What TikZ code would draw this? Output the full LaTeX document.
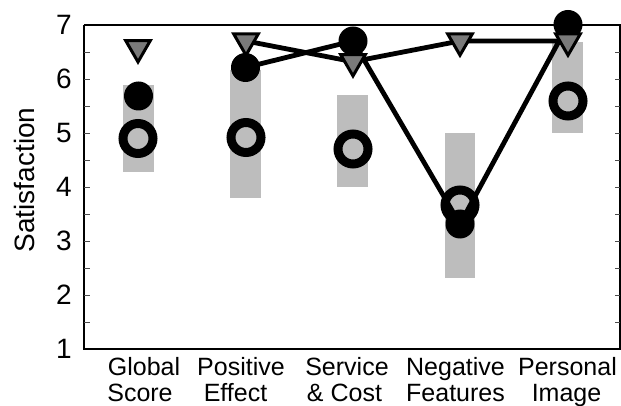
\documentclass[tikz,border=0pt]{standalone}
\usepackage{fontspec}
\setmainfont{Liberation Sans}
\usetikzlibrary{shapes.geometric}
\definecolor{bargray}{HTML}{BDBDBD}
\definecolor{trigray}{HTML}{7A7A7A}
\begin{document}
\begin{tikzpicture}[x=1pt,y=-1pt,
  bar/.style={fill=bargray,draw=none},
  ring/.style={circle,draw=black,line width=9pt,minimum size=30pt,inner sep=0pt},
  dot/.style={circle,fill=black,minimum size=29pt,inner sep=0pt},
  tri/.style={regular polygon,regular polygon sides=3,shape border rotate=180,draw=black,fill=trigray,line width=3pt,minimum size=28.5pt,inner sep=0pt},
  series/.style={line width=4.8pt},
  frame/.style={line width=1.6pt},
  tick/.style={line width=0.7pt,draw=black!70},
  ticklab/.style={font=\fontsize{28}{30}\selectfont,inner sep=0pt},
  catlab/.style={font=\fontsize{25}{28}\selectfont,inner sep=0pt,anchor=base}]
\useasboundingbox (0,0) rectangle (621,406);
% bars
\fill[bar] (123,85) rectangle (154,172);
\fill[bar] (230,70) rectangle (261,198);
\fill[bar] (337,95) rectangle (368,187);
\fill[bar] (445,133) rectangle (475,278);
\fill[bar] (552,42) rectangle (583,133);
% frame
\draw[frame] (84,25) -- (621,25);
\draw[frame] (84,25) -- (84,349) -- (620,349) -- (620,25);
\foreach \v in {52,79,106,133,160,187,214,241,268,295,322}{
  \draw[tick] (84,\v) -- (90,\v);
  \draw[tick] (620,\v) -- (615,\v);
}
% tick labels
\foreach \v/\yy in {7/25,6/79,5/133,4/187,3/241,2/295,1/349}{
  \node[ticklab] (y\v) at (64,\yy) {\v};
}
\node[font=\fontsize{28}{30}\selectfont,rotate=90,anchor=base,inner sep=0pt] (ylab) at (34,180) {Satisfaction};
% category labels
\node[catlab] (c1a) at (144,375) {Global};
\node[catlab] (c1b) at (140,401) {Score};
\node[catlab] (c2a) at (241,375) {Positive};
\node[catlab] (c2b) at (235.5,401) {Effect};
\node[catlab] (c3a) at (347,375) {Service};
\node[catlab] (c3b) at (344.5,401) {\& Cost};
\node[catlab] (c4a) at (455.5,375) {Negative};
\node[catlab] (c4b) at (455.5,401) {Features};
\node[catlab] (c5a) at (567.5,375) {Personal};
\node[catlab] (c5b) at (566.5,401) {Image};
% marker positions
\coordinate (r1) at (138,138.5);
\coordinate (r2) at (246,137.5);
\coordinate (r3) at (353,149);
\coordinate (r4) at (460,205);
\coordinate (r5) at (568,101);
\coordinate (d1) at (138.5,96);
\coordinate (d2) at (245.5,67.5);
\coordinate (d3) at (353,41);
\coordinate (d4) at (460,224);
\coordinate (d5) at (568,24.5);
\coordinate (t1) at (138,47.7);
\coordinate (t2) at (246,41);
\coordinate (t3) at (353,61.7);
\coordinate (t4) at (460,41);
\coordinate (t5) at (568,41);
% series lines
\draw[series] (t2) -- (t3) -- (t4) -- (t5);
\draw[series] (d2) -- (d3) -- (d4) -- (d5);
% rings
\foreach \i in {1,...,5}{ \node[ring] (R\i) at (r\i) {}; }
% filled circles
\foreach \i in {1,...,5}{ \node[dot] (D\i) at (d\i) {}; }
% triangles
\foreach \i in {1,...,5}{ \node[tri] (T\i) at (t\i) {}; }
\end{tikzpicture}
\end{document}
